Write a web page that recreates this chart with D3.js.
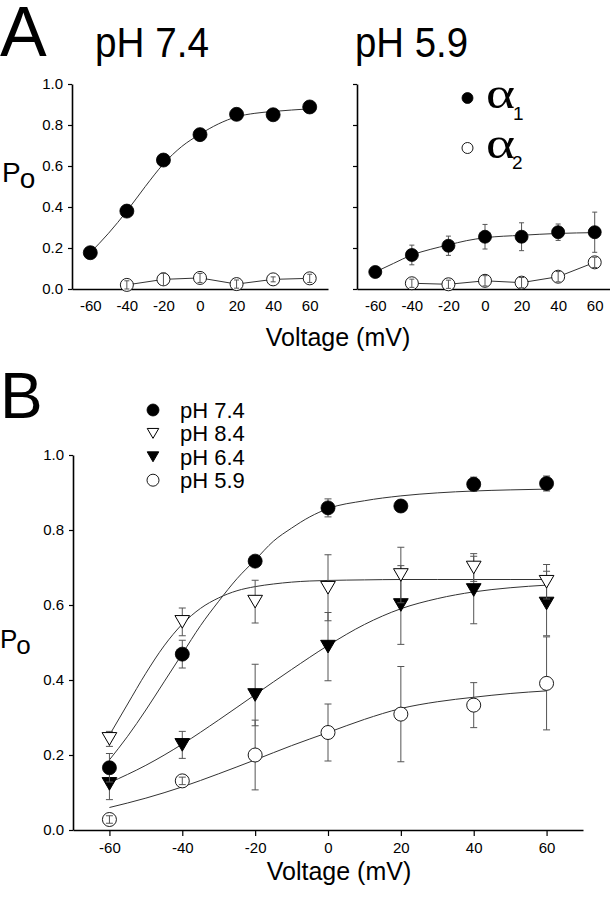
<!DOCTYPE html>
<html><head><meta charset="utf-8">
<script src="https://cdn.jsdelivr.net/npm/d3@7"></script>
<style>
body{margin:0;background:#fff}
text{font-family:"Liberation Sans",Arial,Helvetica,sans-serif;fill:#000}
</style>
</head><body>
<svg id="c" width="610" height="900"></svg>
<script>
// ---------- data ----------
const voltages = [-60, -40, -20, 0, 20, 40, 60];
const voltagesNo60 = [-40, -20, 0, 20, 40, 60];
const xTicks = [-60, -40, -20, 0, 20, 40, 60];
const xTickLabels = ["-60", "-40", "-20", "0", "20", "40", "60"];
const yTicks = [0, 0.2, 0.4, 0.6, 0.8, 1.0];
const yTickLabels = ["0.0", "0.2", "0.4", "0.6", "0.8", "1.0"];

// Panel A, pH 7.4
const a74Alpha1 = [0.177, 0.38, 0.629, 0.753, 0.852, 0.85, 0.888];
const a74Alpha1Err = [0.01, 0.015, 0.015, 0.03, 0.012, 0.012, 0.01];
const a74Alpha1FitV = [-60, -50, -40, -30, -20, -10, 0, 10, 20, 30, 40, 50, 60];
const a74Alpha1Fit = [0.177, 0.272, 0.38, 0.499, 0.61, 0.695, 0.755, 0.805, 0.84, 0.857, 0.866, 0.873, 0.879];
const a74Alpha2 = [0.02, 0.047, 0.054, 0.024, 0.047, 0.052];
const a74Alpha2Err = [0.02, 0.03, 0.022, 0.02, 0.012, 0.02];

// Panel A, pH 5.9
const a59Alpha1 = [0.083, 0.166, 0.211, 0.255, 0.255, 0.277, 0.277];
const a59Alpha1Err = [0.01, 0.048, 0.047, 0.06, 0.068, 0.04, 0.098];
const a59Alpha1LineV = [-60, -50, -40, -30, -20, -10, 0, 20, 40, 60];
const a59Alpha1Line = [0.083, 0.125, 0.166, 0.193, 0.215, 0.236, 0.25, 0.262, 0.271, 0.275];
const a59Alpha2 = [0.028, 0.023, 0.04, 0.031, 0.06, 0.13];
const a59Alpha2Err = [0.02, 0.02, 0.025, 0.025, 0.025, 0.025];

// Panel B
const seriesNames = ["pH 7.4", "pH 8.4", "pH 6.4", "pH 5.9"];
const bPh74 = [0.166, 0.469, 0.717, 0.859, 0.864, 0.922, 0.924];
const bPh74Err = [0.038, 0.037, 0.012, 0.024, 0.015, 0.019, 0.02];
const bPh84 = [0.243, 0.555, 0.609, 0.646, 0.68, 0.70, 0.662];
const bPh84Err = [0.02, 0.037, 0.057, 0.088, 0.074, 0.037, 0.046];
const bPh64 = [0.123, 0.227, 0.36, 0.489, 0.60, 0.64, 0.604];
const bPh64Err = [0.042, 0.036, 0.082, 0.091, 0.105, 0.09, 0.086];
const bPh59 = [0.028, 0.131, 0.20, 0.26, 0.309, 0.333, 0.391];
const bPh59Err = [0.01, 0.01, 0.093, 0.076, 0.127, 0.06, 0.124];

const fitV5 = [-60, -55, -50, -45, -40, -35, -30, -25, -20, -15, -10, -5, 0, 10, 20, 30, 40, 50, 60];
const fitPh74 = [0.187, 0.25, 0.32, 0.395, 0.47, 0.545, 0.61, 0.67, 0.72, 0.77, 0.805, 0.835, 0.857, 0.878, 0.891, 0.899, 0.904, 0.907, 0.909];
const fitPh84 = [0.253, 0.336, 0.418, 0.491, 0.549, 0.591, 0.619, 0.638, 0.649, 0.656, 0.661, 0.664, 0.6655, 0.667, 0.668, 0.668, 0.668, 0.668, 0.668];
const fitV10 = [-60, -50, -40, -30, -20, -10, 0, 10, 20, 30, 40, 50, 60];
const fitPh64 = [0.126, 0.1725, 0.229, 0.2935, 0.361, 0.428, 0.492, 0.548, 0.59, 0.617, 0.635, 0.646, 0.653];
const fitPh59 = [0.06, 0.085, 0.115, 0.15, 0.187, 0.225, 0.26, 0.295, 0.324, 0.342, 0.354, 0.364, 0.371];

// ---------- drawing ----------
const svg = d3.select("#c");
const curveColor = "#333";
const errColor = "#555";

function marker(g, type, cx, cy, s) {
  if (type === "filledCircle" || type === "openCircle") {
    g.append("circle").attr("cx", cx).attr("cy", cy).attr("r", s)
      .attr("fill", type === "filledCircle" ? "#000" : "#fff")
      .attr("stroke", "#000").attr("stroke-width", type === "filledCircle" ? 0.8 : 0.9);
  } else {
    const w = s * 1.05, h = s * 0.9;
    g.append("path")
      .attr("d", `M${cx - w},${cy - h}L${cx + w},${cy - h}L${cx},${cy + h}Z`)
      .attr("fill", type === "filledTri" ? "#000" : "#fff")
      .attr("stroke", "#000").attr("stroke-width", 1).attr("stroke-linejoin", "miter");
  }
}

function errBar(g, cx, y, v, e, cap) {
  const y1 = y(v + e), y2 = y(v - e);
  g.append("line").attr("x1", cx).attr("x2", cx).attr("y1", y1).attr("y2", y2)
    .attr("stroke", errColor).attr("stroke-width", 1);
  [y1, y2].forEach(yy => g.append("line").attr("x1", cx - cap).attr("x2", cx + cap)
    .attr("y1", yy).attr("y2", yy).attr("stroke", errColor).attr("stroke-width", 1));
}

function series(g, x, y, xs, vals, errs, type, s, cap) {
  const gE = g.append("g"), gM = g.append("g"), gT = g.append("g");
  xs.forEach((xv, i) => {
    errBar(gE, x(xv), y, vals[i], errs[i], cap);
    marker(gM, type, x(xv), y(vals[i]), s);
    const px = Math.abs(y(vals[i] + errs[i]) - y(vals[i]));
    if ((type === "openCircle" || type === "openTri") && px < s) {
      errBar(gT, x(xv), y, vals[i], errs[i], cap);
    }
  });
}

function curve(g, x, y, xs, vals, kind) {
  const line = d3.line().x((d, i) => x(xs[i])).y(d => y(d))
    .curve(kind === "linear" ? d3.curveLinear : d3.curveMonotoneX);
  g.append("path").attr("d", line(vals)).attr("fill", "none")
    .attr("stroke", curveColor).attr("stroke-width", 1);
}

function axes(g, x, y, showY, xTickSize, yAxisPos, xAxisPos) {
  const ya = d3.axisLeft(y).tickValues(yTicks).tickSize(4).tickSizeOuter(0)
    .tickPadding(5)
    .tickFormat((d, i) => showY ? yTickLabels[i] : "");
  const yg = g.append("g").attr("transform", `translate(${yAxisPos},0)`).call(ya);
  const xa = d3.axisBottom(x).tickValues(xTicks).tickSize(xTickSize).tickSizeOuter(0)
    .tickPadding(xTickSize ? 6 : 11).tickFormat((d, i) => xTickLabels[i]);
  const xg = g.append("g").attr("transform", `translate(0,${xAxisPos})`).call(xa);
  [yg, xg].forEach(a => {
    a.select(".domain").attr("stroke", "#000").attr("stroke-width", 1.6);
    a.selectAll(".tick line").attr("stroke", "#000").attr("stroke-width", 1.2);
    a.selectAll(".tick text").style("font-family", '"Liberation Sans",Arial,sans-serif')
      .style("font-size", "15px").attr("fill", "#000");
  });
  return { xg, yg };
}

// ---- Panel A ----
svg.append("text").attr("x", 0).attr("y", 56).style("font-size", "70px").text("A");
svg.append("text").attr("x", 95).attr("y", 57).style("font-size", "42px")
  .attr("textLength", 114).attr("lengthAdjust", "spacingAndGlyphs").text("pH 7.4");
svg.append("text").attr("x", 355).attr("y", 57).style("font-size", "42px")
  .attr("textLength", 113).attr("lengthAdjust", "spacingAndGlyphs").text("pH 5.9");

const yA = d3.scaleLinear().domain([0, 1]).range([289, 84]);
const xAL = d3.scaleLinear().domain([-70, 70]).range([72, 328]);
const xAR = d3.scaleLinear().domain([-70, 70]).range([357, 613]);

const gAL = svg.append("g");
axes(gAL, xAL, yA, true, 0, 72, 289);
curve(gAL, xAL, yA, a74Alpha1FitV, a74Alpha1Fit, "smooth");
curve(gAL, xAL, yA, voltagesNo60, a74Alpha2, "linear");
series(gAL, xAL, yA, voltages, a74Alpha1, a74Alpha1Err, "filledCircle", 7, 2.5);
series(gAL, xAL, yA, voltagesNo60, a74Alpha2, a74Alpha2Err, "openCircle", 6.5, 2.5);

const gAR = svg.append("g");
axes(gAR, xAR, yA, false, 0, 357, 289);
curve(gAR, xAR, yA, a59Alpha1LineV, a59Alpha1Line, "smooth");
curve(gAR, xAR, yA, voltagesNo60, a59Alpha2, "linear");
series(gAR, xAR, yA, voltages, a59Alpha1, a59Alpha1Err, "filledCircle", 6.5, 2.5);
series(gAR, xAR, yA, voltagesNo60, a59Alpha2, a59Alpha2Err, "openCircle", 6.5, 2.5);

// Po label A
const poA = svg.append("text").attr("x", 2).attr("y", 182).style("font-size", "28px");
poA.append("tspan").text("P");
poA.append("tspan").attr("dx", -1).attr("dy", 6).text("o");

svg.append("text").attr("x", 338).attr("y", 346).attr("text-anchor", "middle")
  .style("font-size", "25px").text("Voltage (mV)");

// Legend A
const legA = svg.append("g");
marker(legA, "filledCircle", 467.5, 98, 5.5);
marker(legA, "openCircle", 467.5, 148, 5.5);
legA.append("text").attr("x", 486).attr("y", 108).style("font-size", "44px")
  .style("font-family", '"Liberation Serif","Times New Roman",serif')
  .attr("textLength", 29).attr("lengthAdjust", "spacingAndGlyphs").text("α");
legA.append("text").attr("x", 513).attr("y", 120).style("font-size", "19px").text("1");
legA.append("text").attr("x", 486).attr("y", 158).style("font-size", "44px")
  .style("font-family", '"Liberation Serif","Times New Roman",serif')
  .attr("textLength", 29).attr("lengthAdjust", "spacingAndGlyphs").text("α");
legA.append("text").attr("x", 512).attr("y", 169).style("font-size", "19px").text("2");

// ---- Panel B ----
svg.append("text").attr("x", 0).attr("y", 418).style("font-size", "64px").text("B");

const yB = d3.scaleLinear().domain([0, 1]).range([830, 455]);
const xB = d3.scaleLinear().domain([-70, 70]).range([73, 583]);
const gB = svg.append("g");
axes(gB, xB, yB, true, 6, 73, 830);

curve(gB, xB, yB, fitV5, fitPh74, "smooth");
curve(gB, xB, yB, fitV5, fitPh84, "smooth");
curve(gB, xB, yB, fitV10, fitPh64, "smooth");
curve(gB, xB, yB, fitV10, fitPh59, "smooth");

series(gB, xB, yB, voltages, bPh59, bPh59Err, "openCircle", 7, 3.5);
series(gB, xB, yB, voltages, bPh64, bPh64Err, "filledTri", 7, 3.5);
series(gB, xB, yB, voltages, bPh84, bPh84Err, "openTri", 7, 3.5);
series(gB, xB, yB, voltages, bPh74, bPh74Err, "filledCircle", 7, 3.5);

const poB = svg.append("text").attr("x", 0).attr("y", 648).style("font-size", "26px");
poB.append("tspan").text("P");
poB.append("tspan").attr("dx", -1).attr("dy", 6).text("o");

svg.append("text").attr("x", 339).attr("y", 880).attr("text-anchor", "middle")
  .style("font-size", "25px").text("Voltage (mV)");

// Legend B
const legTypes = ["filledCircle", "openTri", "filledTri", "openCircle"];
const legB = svg.append("g");
seriesNames.forEach((n, i) => {
  const cy = 410 + i * 23.4;
  marker(legB, legTypes[i], 153, cy, legTypes[i].includes("Tri") ? 5.5 : 6);
  legB.append("text").attr("x", 180).attr("y", cy + 8).style("font-size", "22px").text(n);
});
</script>
</body></html>
